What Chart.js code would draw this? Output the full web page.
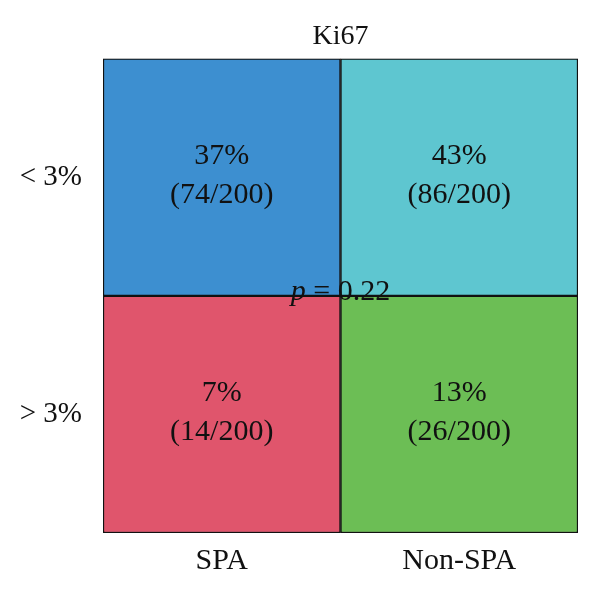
<!DOCTYPE html>
<html>
<head>
<meta charset="utf-8">
<script src="https://cdn.jsdelivr.net/npm/chart.js@4"></script>
<style>
  body { margin: 0; background: #fff; }
  #wrap { width: 600px; height: 592px; }
</style>
</head>
<body>
<div id="wrap"><canvas id="ki67Chart"></canvas></div>
<script>
// groups on x, Ki67 level on y (top row first)
const groups = ['SPA', 'Non-SPA'];
const levels = ['< 3%', '> 3%'];
const lowPct = [37, 43];      // < 3%
const lowCount = [74, 86];
const highPct = [7, 13];      // > 3%
const highCount = [14, 26];
const total = 200;
const pValue = '0.22';

const serif = '"Liberation Serif", "DejaVu Serif", serif';

// write "37%" / "(74/200)" in the middle of each cell
const cellText = {
  id: 'cellText',
  afterDatasetsDraw(chart) {
    const ctx = chart.ctx;
    ctx.save();
    ctx.fillStyle = '#111';
    ctx.textAlign = 'center';
    ctx.textBaseline = 'middle';
    ctx.font = '30px ' + serif;
    chart.data.datasets.forEach((ds, di) => {
      const meta = chart.getDatasetMeta(di);
      meta.data.forEach((bar, i) => {
        const p = bar.getProps(['x', 'y', 'base'], true);
        const cy = (p.y + p.base) / 2;
        ctx.fillText(ds.pct[i] + '%', p.x, cy - 21);
        ctx.fillText('(' + ds.count[i] + '/' + total + ')', p.x, cy + 18);
      });
    });

    // p value at the centre cross
    const xs = chart.scales.x, ys = chart.scales.y;
    const px = (xs.getPixelForValue(0) + xs.getPixelForValue(1)) / 2;
    const py = ys.getPixelForValue(1) - 4;
    const rest = ' = ' + pValue;
    ctx.font = 'italic 30px ' + serif;
    const wp = ctx.measureText('p').width;
    ctx.font = '30px ' + serif;
    const wr = ctx.measureText(rest).width;
    let x0 = px - (wp + wr) / 2;
    ctx.textAlign = 'left';
    ctx.font = 'italic 30px ' + serif;
    ctx.fillText('p', x0, py);
    ctx.font = '30px ' + serif;
    ctx.fillText(rest, x0 + wp, py);
    ctx.restore();
  }
};

new Chart(document.getElementById('ki67Chart'), {
  type: 'bar',
  data: {
    labels: groups,
    datasets: [
      {
        label: levels[0],
        data: [[1, 2], [1, 2]],
        pct: lowPct,
        count: lowCount,
        backgroundColor: ['#3d8fd0', '#5ec6d0'],
      },
      {
        label: levels[1],
        data: [[0, 1], [0, 1]],
        pct: highPct,
        count: highCount,
        backgroundColor: ['#e0556c', '#6cbe55'],
      }
    ]
  },
  options: {
    responsive: true,
    maintainAspectRatio: false,
    animation: false,
    datasets: {
      bar: {
        grouped: false,
        barPercentage: 1,
        categoryPercentage: 1,
        borderColor: '#111',
        borderWidth: 1.5,
        borderSkipped: false
      }
    },
    layout: { padding: { left: 0, right: 22, top: 0, bottom: 0 } },
    plugins: {
      legend: { display: false },
      tooltip: { enabled: false },
      title: {
        display: true,
        fullSize: false,
        text: 'Ki67',
        color: '#111',
        font: { family: serif, size: 28, weight: 'normal' },
        padding: { top: 20, bottom: 5 }
      }
    },
    scales: {
      x: {
        grid: { display: false, drawTicks: false },
        border: { display: false },
        ticks: {
          color: '#111',
          font: { family: serif, size: 30 },
          padding: 10
        },
        afterFit(scale) { scale.height = 59; }
      },
      y: {
        min: 0,
        max: 2,
        grid: { display: false, drawTicks: false },
        border: { display: false },
        afterBuildTicks(scale) {
          scale.ticks = [{ value: 0.5 }, { value: 1.5 }];
        },
        ticks: {
          color: '#111',
          font: { family: serif, size: 29 },
          padding: 21,
          callback(v) { return v > 1 ? levels[0] : levels[1]; }
        },
        afterFit(scale) { scale.width = 103; }
      }
    }
  },
  plugins: [cellText]
});
</script>
</body>
</html>
